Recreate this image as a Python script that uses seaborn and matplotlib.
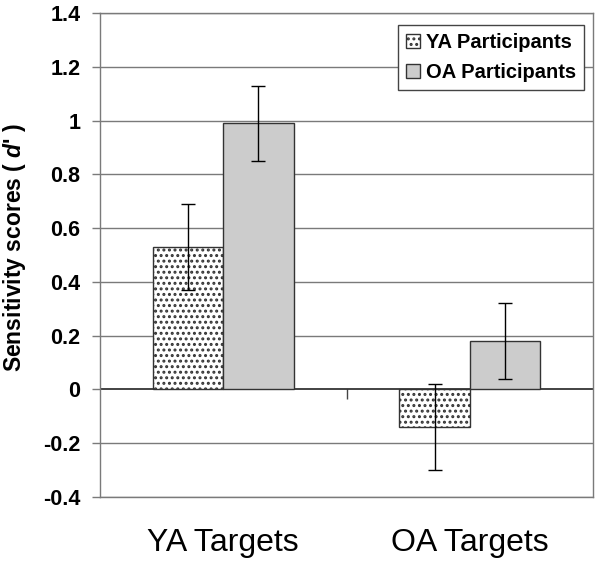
import matplotlib
matplotlib.use("Agg")
import matplotlib.pyplot as plt
import seaborn as sns
import pandas as pd
import numpy as np

# data
targets = ["YA Targets", "OA Targets"]
groups = ["YA Participants", "OA Participants"]
ya_means = [0.53, -0.14]
oa_means = [0.99, 0.18]
ya_err = [0.16, 0.16]
oa_err = [0.14, 0.14]
yticks = [-0.4, -0.2, 0, 0.2, 0.4, 0.6, 0.8, 1, 1.2, 1.4]
ytick_labels = ["-0.4", "-0.2", "0", "0.2", "0.4", "0.6", "0.8", "1", "1.2", "1.4"]

df = pd.DataFrame({
    "Target": targets * 2,
    "Group": [groups[0]] * 2 + [groups[1]] * 2,
    "d": ya_means + oa_means,
    "err": ya_err + oa_err,
})

sns.set_style("white")
plt.rcParams["font.family"] = ["Liberation Sans", "DejaVu Sans"]
plt.rcParams["mathtext.fontset"] = "custom"
plt.rcParams["mathtext.it"] = "Liberation Sans:italic:bold"
plt.rcParams["text.color"] = "black"
plt.rcParams["axes.labelcolor"] = "black"
plt.rcParams["xtick.color"] = "black"
plt.rcParams["ytick.color"] = "black"
plt.rcParams["hatch.linewidth"] = 1.4
plt.rcParams["hatch.color"] = "#111111"

fig = plt.figure(figsize=(6, 5.61), dpi=100)
ax = fig.add_axes([100 / 600, 1 - 497 / 561, 493 / 600, 484 / 561])

sns.barplot(data=df, x="Target", y="d", hue="Group", order=targets,
            hue_order=groups, palette=["white", "#cccccc"], width=0.57,
            errorbar=None, edgecolor="#333333", linewidth=1.0,
            legend=False, ax=ax, zorder=3)

# dotted fill for the YA participant bars
for bar in ax.containers[0]:
    bar.set_hatch("...")

# error bars at bar centres
for cont, g in zip(ax.containers, groups):
    sub = df[df["Group"] == g].set_index("Target").loc[targets]
    xs = [b.get_x() + b.get_width() / 2 for b in cont]
    ax.errorbar(xs, sub["d"], yerr=sub["err"], fmt="none", ecolor="black",
                elinewidth=1.0, capsize=5, capthick=1.0, zorder=4)

ymin, ymax = -0.4, 1.4
ax.set_ylim(ymin, ymax)
ax.set_xlim(-0.5, 1.5)
ax.set_yticks(yticks)
ax.set_yticklabels(ytick_labels, fontsize=15.5, fontweight="bold")
for y in yticks:
    ax.axhline(y, color="#222222" if y == 0 else "#7a7a7a",
               lw=1.2 if y == 0 else 1.0, zorder=1)

ax.tick_params(axis="y", length=6, width=1, color="#7a7a7a", pad=8,
               direction="out", left=True)
ax.tick_params(axis="x", length=0, pad=22, labelsize=23)
for s in ax.spines.values():
    s.set_color("#7a7a7a")
    s.set_linewidth(1.0)

ax.set_xlabel("")
ax.set_ylabel("Sensitivity scores ( $d$' )", fontsize=16.5, fontweight="bold")
ax.yaxis.set_label_coords(-0.146, 0.516)

# category divider tick on the zero line
sec = ax.secondary_xaxis((0 - ymin) / (ymax - ymin))
sec.set_xticks([0.5])
sec.set_xticklabels([""])
sec.tick_params(axis="x", length=7, width=1, color="#444444", direction="out")
sec.spines["bottom"].set_visible(False)
sec.spines["top"].set_visible(False)

leg = ax.legend(handles=list(ax.containers), labels=groups, loc="upper right",
                bbox_to_anchor=((584 - 100) / 493, 1 - 12 / 484),
                bbox_transform=ax.transAxes, frameon=True, fancybox=False,
                edgecolor="#444444", framealpha=1,
                prop={"weight": "bold", "size": 14.5}, handlelength=0.7,
                handleheight=0.7, handletextpad=0.3, borderpad=0.4,
                labelspacing=0.55, borderaxespad=0)
leg.get_frame().set_linewidth(1.0)
leg.set_zorder(5)

fig.savefig("out.png", dpi=100)
